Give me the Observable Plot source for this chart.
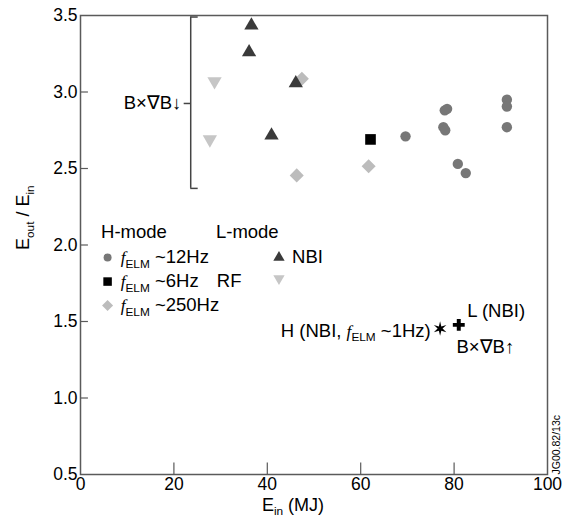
<!DOCTYPE html>
<html><head><meta charset="utf-8">
<script src="https://cdn.jsdelivr.net/npm/d3@7"></script>
<script src="https://cdn.jsdelivr.net/npm/@observablehq/plot@0.6"></script>
<style>
body{margin:0;background:#fff}
svg{font-family:"Liberation Sans",Arial,Helvetica,sans-serif}
</style>
</head><body><div id="chart"></div>
<script>
// ---- data ----
const xTicks = [0, 20, 40, 60, 80, 100];
const yTicks = [0.5, 1.0, 1.5, 2.0, 2.5, 3.0, 3.5];
// H-mode, fELM ~12Hz (grey circles)
const h12E = [69.6, 78.0, 78.5, 77.7, 78.1, 80.8, 82.5, 91.3, 91.3, 91.3];
const h12R = [2.71, 2.88, 2.89, 2.77, 2.75, 2.53, 2.47, 2.95, 2.905, 2.77];
// H-mode, fELM ~6Hz RF (black square)
const h6E = [62.1];
const h6R = [2.69];
// H-mode, fELM ~250Hz (light diamonds)
const h250E = [47.4, 46.3, 61.7];
const h250R = [3.086, 2.455, 2.515];
// L-mode NBI (dark triangles)
const lNbiE = [36.6, 36.1, 46.1, 40.9];
const lNbiR = [3.435, 3.26, 3.058, 2.716];
// L-mode RF (light inverted triangles)
const lRfE = [28.7, 27.7];
const lRfR = [3.07, 2.69];
// B x gradB up cases
const hSlowE = [77.0], hSlowR = [1.454];   // H (NBI, fELM ~1Hz)
const lUpE = [81.0], lUpR = [1.478];       // L (NBI)

const pts = (xs, ys) => xs.map((x, i) => ({x, y: ys[i]}));

// six-pointed star symbol
const star6 = {
  draw(ctx, size) {
    const R = Math.sqrt(size) * 0.66, r = R * 0.34;
    for (let i = 0; i < 12; i++) {
      const a = i * Math.PI / 6 - Math.PI / 2, rr = i % 2 ? r : R;
      const x = rr * Math.cos(a), y = rr * Math.sin(a);
      i ? ctx.lineTo(x, y) : ctx.moveTo(x, y);
    }
    ctx.closePath();
  }
};

const C = {circle: "#777777", square: "#000000", diamond: "#bcbcbc", tri: "#3a3a3a", inv: "#c6c6c6", frame: "#5a5a5a"};
const FS = 18.5;

const ann = (text, x, y, o = {}) => Plot.text([text], {x: () => x, y: () => y, textAnchor: "start", fontSize: FS, fill: "#000", ...o});

const chart = Plot.plot({
  width: 568, height: 518,
  marginLeft: 80, marginRight: 21, marginTop: 15, marginBottom: 44,
  x: {domain: [0, 100]},
  y: {domain: [0.5, 3.5]},
  style: {fontSize: "17px", color: "#000", background: "#fff"},
  marks: [
    Plot.axisX(xTicks, {tickSize: 0, tickPadding: 3, fontSize: 17.5, label: null}),
    Plot.axisY(yTicks, {tickSize: 0, tickPadding: 3, fontSize: 17.5, tickFormat: d3.format(".1f"), label: null}),
    Plot.ruleX(xTicks.slice(1, -1), {y1: 0.5, y2: 0.575, stroke: C.frame, strokeWidth: 1.2}),
    Plot.ruleY(yTicks.slice(1, -1), {x1: 0, x2: 1.7, stroke: C.frame, strokeWidth: 1.2}),
    Plot.frame({stroke: C.frame, strokeWidth: 1.5}),
    // B x gradB down bracket
    Plot.ruleX([23.6], {y1: 2.37, y2: 3.49, stroke: "#444", strokeWidth: 1.5}),
    Plot.ruleY([2.37, 3.49], {x1: 23.6, x2: 25.2, stroke: "#444", strokeWidth: 1.5}),
    Plot.ruleY([2.925], {x1: 22.2, x2: 23.6, stroke: "#444", strokeWidth: 1.5}),
    ann("B×∇B↓", 21.6, 2.925, {textAnchor: "end"}),
    // data
    Plot.dot(pts(h250E, h250R), {x: "x", y: "y", symbol: "square", rotate: 45, r: 5.6, fill: C.diamond}),
    Plot.dot(pts(lRfE, lRfR), {x: "x", y: "y", symbol: "triangle", rotate: 180, r: 5.3, fill: C.inv}),
    Plot.dot(pts(lNbiE, lNbiR), {x: "x", y: "y", symbol: "triangle", r: 5.3, fill: C.tri}),
    Plot.dot(pts(h6E, h6R), {x: "x", y: "y", symbol: "square", r: 6.0, fill: C.square}),
    Plot.dot(pts(h12E, h12R), {x: "x", y: "y", symbol: "circle", r: 5.2, fill: C.circle}),
    Plot.dot(pts(hSlowE, hSlowR), {x: "x", y: "y", symbol: star6, r: 6.2, fill: "#000"}),
    Plot.dot(pts(lUpE, lUpR), {x: "x", y: "y", symbol: "cross", r: 5.0, fill: "#000"}),
    // annotations
    ann("H (NBI, *f*_{ELM} ~1Hz)", 75.0, 1.44, {textAnchor: "end"}),
    ann("L (NBI)", 82.8, 1.565),
    ann("B×∇B↑", 80.5, 1.33),
    // legend
    ann("H-mode", 4.4, 2.082),
    ann("L-mode", 29.0, 2.082),
    Plot.dot([0], {x: () => 5.8, y: () => 1.918, symbol: "circle", r: 4, fill: C.circle}),
    Plot.dot([0], {x: () => 5.8, y: () => 1.761, symbol: "square", r: 4.8, fill: C.square}),
    Plot.dot([0], {x: () => 5.8, y: () => 1.605, symbol: "square", rotate: 45, r: 4.4, fill: C.diamond}),
    Plot.dot([0], {x: () => 42.5, y: () => 1.918, symbol: "triangle", r: 4.2, fill: C.tri}),
    Plot.dot([0], {x: () => 42.5, y: () => 1.781, symbol: "triangle", rotate: 180, r: 4.2, fill: C.inv}),
    ann("*f*_{ELM} ~12Hz", 8.6, 1.918),
    ann("*f*_{ELM} ~6Hz", 8.6, 1.761),
    ann("RF", 29.2, 1.761),
    ann("*f*_{ELM} ~250Hz", 8.6, 1.605),
    ann("NBI", 45.3, 1.918),
    // axis labels
    Plot.text(["E_{in} (MJ)"], {x: () => 45.5, frameAnchor: "bottom", dy: 36, fontSize: 18, fill: "#000"}),
    Plot.text(["E_{out} / E_{in}"], {frameAnchor: "left", rotate: -90, dx: -57, dy: 5, fontSize: 18, fill: "#000"}),
    Plot.text(["JG00.82/13c"], {frameAnchor: "bottom-right", rotate: -90, textAnchor: "start", dx: 12, dy: 0, fontSize: 10.5, fill: "#000"})
  ]
});

// rich text: *x* = italic, _{x} = subscript
function enrich(svg) {
  d3.select(svg).selectAll("text").each(function () {
    if (this.querySelector("tspan")) return;
    const t = this.textContent;
    if (!/_\{|\*/.test(t)) return;
    const fs = parseFloat(this.getAttribute("font-size")) || parseFloat(getComputedStyle(this).fontSize) || 16;
    const el = d3.select(this);
    el.text(null);
    let pending = 0;
    for (const p of t.split(/(\*[^*]+\*|_\{[^}]*\})/g).filter(s => s)) {
      const ts = el.append("tspan");
      if (p.startsWith("_{")) {
        ts.text(p.slice(2, -1)).attr("font-size", fs * 0.74).attr("dy", fs * 0.3);
        pending = fs * 0.3;
      } else {
        if (p.startsWith("*")) {
          ts.text(p.slice(1, -1)).attr("font-style", "italic").attr("font-family", "'Liberation Serif','DejaVu Serif',serif").attr("font-size", fs * 1.08);
        } else ts.text(p);
        if (pending) { ts.attr("dy", -pending); pending = 0; }
      }
    }
  });
}
enrich(chart);
document.getElementById("chart").appendChild(chart);
</script>
</body></html>
